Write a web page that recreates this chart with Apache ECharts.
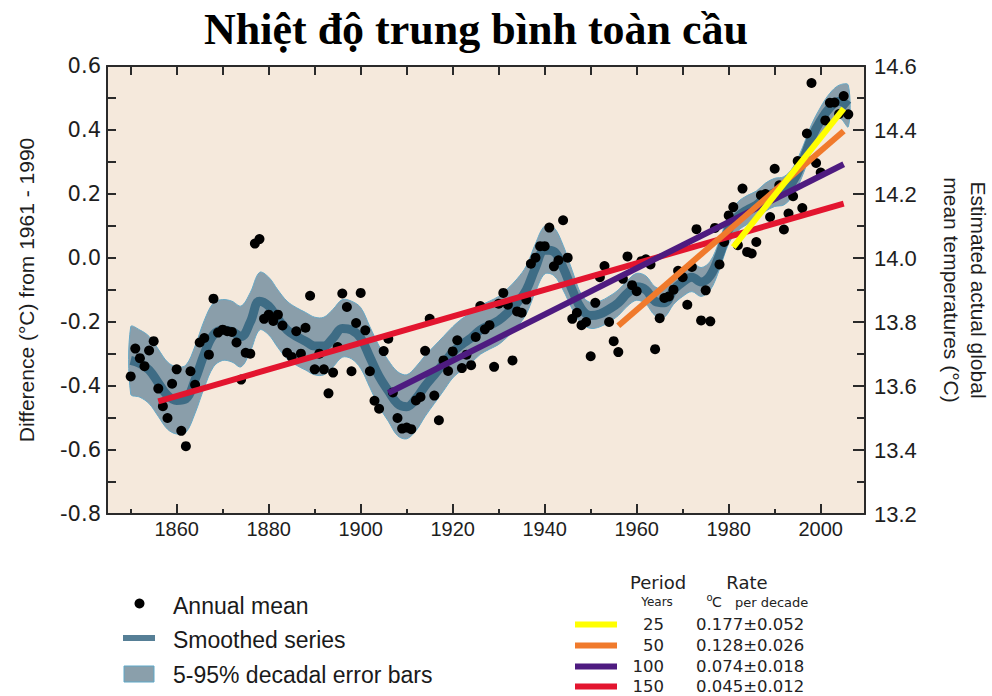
<!DOCTYPE html>
<html>
<head>
<meta charset="utf-8">
<script src="https://cdn.jsdelivr.net/npm/echarts@6/dist/echarts.min.js"></script>
<style>
html,body{margin:0;padding:0;background:#ffffff;}
#chart{width:992px;height:696px;}
</style>
</head>
<body>
<div id="chart"></div>
<script>
// ---------------- data ----------------
const firstYear = 1850;
// annual global mean anomalies (°C, relative to 1961-1990), 1850..2006
const annualMean = [
  -0.370,-0.283,-0.313,-0.338,-0.289,-0.260,-0.408,-0.463,-0.500,-0.393, // 1850s
  -0.348,-0.540,-0.588,-0.354,-0.396,-0.264,-0.250,-0.302,-0.127,-0.233, // 1860s
  -0.224,-0.229,-0.231,-0.264,-0.380,-0.296,-0.299, 0.045, 0.059,-0.190, // 1870s
  -0.177,-0.197,-0.177,-0.211,-0.296,-0.309,-0.229,-0.299,-0.218,-0.118, // 1880s
  -0.348,-0.299,-0.348,-0.423,-0.358,-0.278,-0.111,-0.153,-0.354,-0.203, // 1890s
  -0.109,-0.226,-0.354,-0.446,-0.471,-0.291,-0.252,-0.420,-0.500,-0.533, // 1900s
  -0.530,-0.535,-0.445,-0.434,-0.290,-0.190,-0.430,-0.507,-0.320,-0.353, // 1910s
  -0.292,-0.257,-0.344,-0.302,-0.335,-0.247,-0.150,-0.223,-0.210,-0.340, // 1920s
  -0.143,-0.109,-0.146,-0.320,-0.167,-0.171,-0.130,-0.018, 0.001, 0.037, // 1930s
   0.037, 0.095,-0.026,-0.007, 0.118, 0.001,-0.190,-0.171,-0.210,-0.200, // 1940s
  -0.307,-0.140,-0.060,-0.025,-0.200,-0.260,-0.294,-0.065, 0.005,-0.085, // 1950s
  -0.104,-0.010,-0.004,-0.020,-0.285,-0.188,-0.125,-0.120,-0.099,-0.040, // 1960s
  -0.060,-0.146,-0.028, 0.090,-0.195,-0.101,-0.198, 0.094,-0.020, 0.050, // 1970s
   0.133, 0.159, 0.040, 0.217, 0.019, 0.014, 0.050, 0.196, 0.200, 0.128, // 1980s
   0.279, 0.227, 0.089, 0.139, 0.193, 0.303, 0.156, 0.389, 0.547, 0.297, // 1990s
   0.267, 0.430, 0.485, 0.486, 0.450, 0.506, 0.449                        // 2000s
];

// smoothed (decadal) series and its 5-95% half width
const smoothYears = [
  1850,1852,1854,1856,1858,1860,1862,1864,1866,1868,
  1870,1872,1874,1876,1878,1880,1882,1884,1886,1888,
  1890,1892,1894,1896,1898,1900,1902,1904,1906,1908,
  1910,1912,1914,1916,1918,1920,1922,1924,1926,1928,
  1930,1932,1934,1936,1938,1940,1942,1944,1946,1948,
  1950,1952,1954,1956,1958,1960,1962,1964,1966,1968,
  1970,1972,1974,1976,1978,1980,1982,1984,1986,1988,
  1990,1992,1994,1996,1998,2000,2002,2004,2006
];
const smoothValues = [
  -0.320,-0.330,-0.350,-0.390,-0.430,-0.445,-0.440,-0.380,-0.300,-0.240,
  -0.225,-0.230,-0.245,-0.200,-0.135,-0.150,-0.190,-0.225,-0.245,-0.260,
  -0.275,-0.275,-0.250,-0.220,-0.225,-0.250,-0.310,-0.370,-0.415,-0.455,
  -0.465,-0.440,-0.400,-0.365,-0.330,-0.295,-0.270,-0.250,-0.225,-0.210,
  -0.195,-0.170,-0.140,-0.100,-0.030, 0.025, 0.020,-0.030,-0.100,-0.160,
  -0.180,-0.175,-0.160,-0.140,-0.110,-0.090,-0.100,-0.135,-0.140,-0.100,
  -0.075,-0.060,-0.075,-0.055, 0.010, 0.090, 0.130, 0.150, 0.165, 0.190,
   0.205, 0.210, 0.240, 0.300, 0.375, 0.430, 0.470, 0.490, 0.475
];
const errorHalfWidth = [
  0.105,0.105,0.105,0.105,0.105,0.105,0.105,0.105,0.105,0.100,
  0.095,0.095,0.095,0.092,0.090,0.090,0.090,0.090,0.090,0.090,
  0.090,0.090,0.090,0.090,0.090,0.095,0.095,0.095,0.095,0.100,
  0.100,0.100,0.095,0.090,0.085,0.080,0.080,0.078,0.076,0.075,
  0.075,0.075,0.075,0.075,0.075,0.075,0.075,0.070,0.060,0.045,
  0.040,0.040,0.040,0.040,0.040,0.042,0.044,0.045,0.045,0.045,
  0.045,0.045,0.045,0.045,0.045,0.045,0.045,0.045,0.044,0.044,
  0.044,0.044,0.044,0.044,0.042,0.042,0.045,0.050,0.065
];

// linear trends
const trendPeriods     = ['25', '50', '100', '150'];
const trendRates       = ['0.177\u00b10.052', '0.128\u00b10.026', '0.074\u00b10.018', '0.045\u00b10.012'];
const trendStartYears  = [1981, 1956, 1906, 1856];
const trendEndYear     = 2005;
const trendStartValues = [0.034, -0.212, -0.422, -0.448];
const trendEndValues   = [0.467, 0.397, 0.293, 0.170];
const trendColors      = ['#FFFF00', '#F07A2C', '#4E1B80', '#E3152F'];

// axis ticks
const xLabelYears   = [1860, 1880, 1900, 1920, 1940, 1960, 1980, 2000];
const xMinorYears   = [1850, 1870, 1890, 1910, 1930, 1950, 1970, 1990];
const xTopTickYears = [1850, 1860, 1870, 1880, 1890, 1900, 1910, 1920, 1930, 1940, 1950, 1960, 1970, 1980, 1990, 2000];

// ---------------- chart ----------------
const X_MIN = 1844.85, X_MAX = 2009.63;
const AX = '#2a2a2a';
const PLOT_BG = '#F5E9DC';
const GRID = {left: 107, top: 66, width: 758, height: 448, outerBoundsMode: 'none', containLabel: false};

const dots = annualMean.map((v, i) => [firstYear + i, v]);
const smoothData = smoothYears.map((y, i) => [y, smoothValues[i]]);
const bandUpper = smoothYears.map((y, i) => [y, +(smoothValues[i] + errorHalfWidth[i]).toFixed(4)]);
const bandLower = smoothYears.map((y, i) => [y, +(smoothValues[i] - errorHalfWidth[i]).toFixed(4)]);

const trendSeries = [3, 2, 1, 0].map(k => ({
  name: trendPeriods[k] + ' years',
  type: 'line',
  xAxisIndex: 0, yAxisIndex: 0,
  symbol: 'none',
  silent: true,
  lineStyle: {color: trendColors[k], width: 6, cap: 'butt'},
  data: [[trendStartYears[k], trendStartValues[k]], [trendEndYear, trendEndValues[k]]],
  z: 5
}));

const sansTxt = '"Liberation Sans", Arial, sans-serif';
const verTxt = '"DejaVu Sans", Verdana, sans-serif';

const graphics = [
  {type: 'text', x: 476, y: 29, style: {text: 'Nhiệt độ trung bình toàn cầu', font: 'bold 44px "Liberation Serif", "Times New Roman", serif', fill: '#000', textAlign: 'center', textVerticalAlign: 'middle'}},
  // left legend
  {type: 'circle', shape: {cx: 139.5, cy: 603.5, r: 5}, style: {fill: '#000'}},
  {type: 'text', x: 173, y: 606, style: {text: 'Annual mean', font: '23px ' + sansTxt, fill: '#1a1a1a', textVerticalAlign: 'middle'}},
  {type: 'rect', shape: {x: 123, y: 635, width: 32, height: 6}, style: {fill: '#567F96'}},
  {type: 'text', x: 173, y: 640, style: {text: 'Smoothed series', font: '23px ' + sansTxt, fill: '#1a1a1a', textVerticalAlign: 'middle'}},
  {type: 'rect', shape: {x: 124, y: 666, width: 30, height: 16}, style: {fill: '#8A9FAB', stroke: '#5FA8C8', lineWidth: 1}},
  {type: 'text', x: 173, y: 675, style: {text: '5-95% decadal error bars', font: '23px ' + sansTxt, fill: '#1a1a1a', textVerticalAlign: 'middle'}},
  // right legend headers
  {type: 'text', x: 658, y: 582, style: {text: 'Period', font: '18px ' + verTxt, fill: '#222', textAlign: 'center', textVerticalAlign: 'middle'}},
  {type: 'text', x: 747, y: 582, style: {text: 'Rate', font: '18px ' + verTxt, fill: '#222', textAlign: 'center', textVerticalAlign: 'middle'}},
  {type: 'text', x: 657, y: 602, style: {text: 'Years', font: '12px ' + verTxt, fill: '#222', textAlign: 'center', textVerticalAlign: 'middle'}},
  {type: 'text', x: 706.5, y: 597, style: {text: 'o', font: '10px ' + verTxt, fill: '#222', textVerticalAlign: 'middle'}},
  {type: 'text', x: 712, y: 602, style: {text: 'C', font: '14px ' + verTxt, fill: '#222', textVerticalAlign: 'middle'}},
  {type: 'text', x: 735, y: 602, style: {text: 'per decade', font: '13px ' + verTxt, fill: '#222', textVerticalAlign: 'middle'}}
];
const rowY = [624.5, 645.5, 666.5, 686.5];
for (let k = 0; k < 4; k++) {
  graphics.push({type: 'rect', shape: {x: 575, y: rowY[k] - 3, width: 42, height: 6}, style: {fill: trendColors[k]}});
  graphics.push({type: 'text', x: 664, y: rowY[k], style: {text: trendPeriods[k], font: '16.5px ' + verTxt, fill: '#222', textAlign: 'right', textVerticalAlign: 'middle'}});
  graphics.push({type: 'text', x: 696, y: rowY[k], style: {text: trendRates[k], font: '16.5px ' + verTxt, fill: '#222', textAlign: 'left', textVerticalAlign: 'middle'}});
}

const option = {
  animation: false,
  backgroundColor: '#ffffff',
  grid: [
    Object.assign({show: true, backgroundColor: PLOT_BG, borderWidth: 0}, GRID),
    Object.assign({show: false}, GRID)
  ],
  xAxis: [
    {
      type: 'value', gridIndex: 0, min: X_MIN, max: X_MAX, position: 'bottom', z: 10,
      axisLine: {show: true, onZero: false, lineStyle: {color: AX, width: 2}},
      splitLine: {show: false},
      axisTick: {show: true, inside: true, length: 10, customValues: xLabelYears, lineStyle: {color: AX, width: 2}},
      axisLabel: {show: true, customValues: xLabelYears, formatter: v => String(Math.round(v)), fontFamily: sansTxt, fontSize: 20, color: '#1e1e1e', margin: 5}
    },
    {
      type: 'value', gridIndex: 0, min: X_MIN, max: X_MAX, position: 'top', z: 10,
      axisLine: {show: true, onZero: false, lineStyle: {color: AX, width: 2}},
      splitLine: {show: false},
      axisTick: {show: true, inside: true, length: 9, customValues: xTopTickYears, lineStyle: {color: AX, width: 2}},
      axisLabel: {show: false}
    },
    {
      type: 'value', gridIndex: 1, min: X_MIN, max: X_MAX, position: 'bottom', z: 10,
      axisLine: {show: false, onZero: false},
      splitLine: {show: false},
      axisTick: {show: true, inside: true, length: 5, customValues: xMinorYears, lineStyle: {color: AX, width: 2}},
      axisLabel: {show: false}
    }
  ],
  yAxis: [
    {
      type: 'value', gridIndex: 0, min: -0.8, max: 0.6, interval: 0.2, position: 'left', z: 10,
      name: 'Difference (\u00b0C) from 1961 - 1990', nameLocation: 'middle', nameRotate: 90, nameGap: 70,
      nameTextStyle: {fontFamily: sansTxt, fontSize: 21, color: '#1e1e1e'},
      axisLine: {show: true, onZero: false, lineStyle: {color: AX, width: 2}},
      splitLine: {show: false},
      axisTick: {show: true, inside: true, length: 9, lineStyle: {color: AX, width: 2}},
      minorTick: {show: true, splitNumber: 2, length: 9, lineStyle: {color: AX, width: 2}},
      axisLabel: {formatter: v => v.toFixed(1), fontFamily: verTxt, fontSize: 21, color: '#1e1e1e', margin: 6}
    },
    {
      type: 'value', gridIndex: 0, min: 13.2, max: 14.6, interval: 0.2, position: 'right', z: 10,
      name: 'Estimated actual global\nmean temperatures (\u00b0C)', nameLocation: 'middle', nameRotate: -90, nameGap: 73,
      nameTextStyle: {fontFamily: sansTxt, fontSize: 21, lineHeight: 27, color: '#1e1e1e'},
      axisLine: {show: true, onZero: false, lineStyle: {color: AX, width: 2}},
      splitLine: {show: false},
      axisTick: {show: true, inside: true, length: 12, lineStyle: {color: AX, width: 2}},
      minorTick: {show: true, splitNumber: 2, length: 8, lineStyle: {color: AX, width: 2}},
      axisLabel: {formatter: v => v.toFixed(1), fontFamily: sansTxt, fontSize: 22, color: '#1e1e1e', margin: 9}
    },
    {
      type: 'value', gridIndex: 1, min: -0.8, max: 0.6, show: false
    }
  ],
  series: [
    {
      name: '5-95% decadal error bars', type: 'custom', coordinateSystem: 'cartesian2d',
      xAxisIndex: 0, yAxisIndex: 0, silent: true, z: 2,
      data: [[smoothYears[0], smoothValues[0]]],
      renderItem: function (params, api) {
        const pts = bandUpper.map(p => api.coord(p))
          .concat(bandLower.slice().reverse().map(p => api.coord(p)));
        return {
          type: 'polygon',
          shape: {points: pts, smooth: 0.35},
          style: {fill: '#8A9EAA', stroke: '#66A8C6', lineWidth: 1}
        };
      }
    },
    {
      name: 'Smoothed series', type: 'line', xAxisIndex: 0, yAxisIndex: 0, smooth: 0.4,
      symbol: 'none', silent: true,
      lineStyle: {color: '#3E6C85', width: 9},
      data: smoothData, z: 3
    },
    {
      name: 'Annual mean', type: 'scatter', xAxisIndex: 0, yAxisIndex: 0,
      symbol: 'circle', symbolSize: 10, silent: true,
      itemStyle: {color: '#000000', opacity: 1},
      data: dots, z: 4
    }
  ].concat(trendSeries),
  graphic: graphics
};

const chart = echarts.init(document.getElementById('chart'), null, {renderer: 'svg', width: 992, height: 696});
chart.setOption(option);
</script>
</body>
</html>
